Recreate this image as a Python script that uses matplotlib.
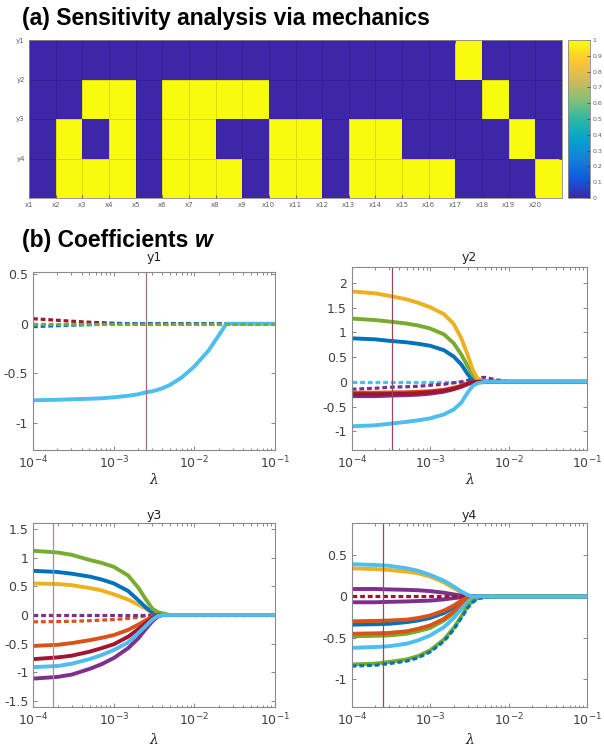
import numpy as np
import matplotlib
matplotlib.use("Agg")
import matplotlib.pyplot as plt
from matplotlib.colors import LinearSegmentedColormap
from matplotlib.ticker import FormatStrFormatter

# --- (a) sensitivity matrix: rows y1..y4, columns x1..x20 -----------------
ROW_LABELS = ["y1", "y2", "y3", "y4"]
COL_LABELS = ["x%d" % i for i in range(1, 21)]
SENS_Y1 = [0, 0, 0, 0, 0, 0, 0, 0, 0, 0, 0, 0, 0, 0, 0, 0, 1, 0, 0, 0]
SENS_Y2 = [0, 0, 1, 1, 0, 1, 1, 1, 1, 0, 0, 0, 0, 0, 0, 0, 0, 1, 0, 0]
SENS_Y3 = [0, 1, 0, 1, 0, 1, 1, 0, 0, 1, 1, 0, 1, 1, 0, 0, 0, 0, 1, 0]
SENS_Y4 = [0, 1, 1, 1, 0, 1, 1, 1, 0, 1, 1, 0, 1, 1, 1, 1, 0, 0, 0, 1]

# --- (b) coefficient paths at these lambdas -------------------------------
LAMBDA = [1e-4, 2e-4, 3e-4, 5e-4, 7e-4, 1e-3, 1.5e-3, 2e-3, 2.5e-3, 3e-3,
          3.5e-3, 4e-3, 5e-3, 7e-3, 1e-2, 1.5e-2, 2e-2, 2.5e-2, 1e-1]
ZEROS = [0, 0, 0, 0, 0, 0, 0, 0, 0, 0, 0, 0, 0, 0, 0, 0, 0, 0, 0]

Y1_CYAN = [-0.77, -0.765, -0.76, -0.755, -0.75, -0.74, -0.725, -0.71, -0.69, -0.68,
           -0.665, -0.65, -0.615, -0.54, -0.43, -0.27, -0.12, 0, 0]
Y1_MAROON_DOT = [0.05, 0.035, 0.025, 0.015, 0.01, 0.005, 0, 0, 0, 0,
                 0, 0, 0, 0, 0, 0, 0, 0, 0]
Y1_BLUE_DOT = [-0.03, -0.02, -0.015, -0.01, -0.005, 0, 0, 0, 0, 0,
               0, 0, 0, 0, 0, 0, 0, 0, 0]
Y1_GREEN_DOT = ZEROS

Y2_YELLOW = [1.83, 1.79, 1.74, 1.67, 1.60, 1.51, 1.37, 1.17, 0.88, 0.55,
             0.24, 0.07, 0, 0, 0, 0, 0, 0, 0]
Y2_GREEN = [1.28, 1.25, 1.22, 1.18, 1.14, 1.08, 0.96, 0.78, 0.55, 0.32,
            0.14, 0.04, 0, 0, 0, 0, 0, 0, 0]
Y2_BLUE = [0.88, 0.86, 0.83, 0.80, 0.77, 0.73, 0.64, 0.51, 0.35, 0.16,
           0.03, 0, 0, 0, 0, 0, 0, 0, 0]
Y2_CYAN_DOT = ZEROS
Y2_PURPLE_DOT = [-0.15, -0.13, -0.11, -0.10, -0.09, -0.07, -0.05, -0.02, 0, 0.03,
                 0.06, 0.08, 0.09, 0.04, 0, 0, 0, 0, 0]
Y2_ORANGE = [-0.22, -0.22, -0.215, -0.21, -0.20, -0.19, -0.16, -0.12, -0.08, -0.03,
             -0.01, 0, 0, 0, 0, 0, 0, 0, 0]
Y2_MAROON = [-0.25, -0.25, -0.245, -0.24, -0.23, -0.21, -0.18, -0.14, -0.09, -0.04,
             -0.01, 0, 0, 0, 0, 0, 0, 0, 0]
Y2_PURPLE = [-0.29, -0.29, -0.28, -0.27, -0.26, -0.24, -0.20, -0.15, -0.10, -0.05,
             -0.01, 0, 0, 0, 0, 0, 0, 0, 0]
Y2_CYAN = [-0.90, -0.88, -0.85, -0.81, -0.78, -0.74, -0.66, -0.56, -0.42, -0.22,
           -0.08, -0.03, 0, 0, 0, 0, 0, 0, 0]

Y3_GREEN = [1.12, 1.09, 1.05, 0.96, 0.91, 0.84, 0.69, 0.48, 0.27, 0.11,
            0.05, 0.03, 0, 0, 0, 0, 0, 0, 0]
Y3_BLUE = [0.77, 0.75, 0.72, 0.67, 0.62, 0.55, 0.42, 0.26, 0.13, 0.04,
           0.01, 0, 0, 0, 0, 0, 0, 0, 0]
Y3_YELLOW = [0.55, 0.54, 0.52, 0.47, 0.43, 0.36, 0.27, 0.18, 0.11, 0.04,
             0.01, 0, 0, 0, 0, 0, 0, 0, 0]
Y3_PURPLE_DOT = ZEROS
Y3_ORANGE_DOT = [-0.12, -0.115, -0.11, -0.10, -0.09, -0.08, -0.06, -0.04, -0.01, 0,
                 0, 0, 0, 0, 0, 0, 0, 0, 0]
Y3_ORANGE = [-0.54, -0.52, -0.49, -0.44, -0.40, -0.35, -0.26, -0.17, -0.09, -0.03,
             -0.01, 0, 0, 0, 0, 0, 0, 0, 0]
Y3_MAROON = [-0.77, -0.74, -0.71, -0.64, -0.58, -0.51, -0.38, -0.25, -0.14, -0.05,
             -0.01, 0, 0, 0, 0, 0, 0, 0, 0]
Y3_CYAN = [-0.91, -0.89, -0.85, -0.77, -0.70, -0.61, -0.48, -0.32, -0.19, -0.08,
           -0.02, 0, 0, 0, 0, 0, 0, 0, 0]
Y3_PURPLE = [-1.11, -1.08, -1.04, -0.94, -0.86, -0.75, -0.58, -0.41, -0.24, -0.11,
             -0.03, 0, 0, 0, 0, 0, 0, 0, 0]

Y4_CYAN_A = [0.39, 0.38, 0.37, 0.34, 0.31, 0.26, 0.19, 0.12, 0.06, 0.02,
             0, 0, 0, 0, 0, 0, 0, 0, 0]
Y4_YELLOW = [0.34, 0.33, 0.32, 0.30, 0.28, 0.24, 0.17, 0.10, 0.05, 0.01,
             0, 0, 0, 0, 0, 0, 0, 0, 0]
Y4_PURPLE_A = [0.09, 0.09, 0.085, 0.08, 0.075, 0.065, 0.045, 0.025, 0.01, 0,
               0, 0, 0, 0, 0, 0, 0, 0, 0]
Y4_PURPLE_B = [-0.07, -0.07, -0.065, -0.06, -0.055, -0.05, -0.035, -0.02, -0.01, 0,
               0, 0, 0, 0, 0, 0, 0, 0, 0]
Y4_MAROON_DOT = ZEROS
Y4_ORANGE_A = [-0.30, -0.295, -0.29, -0.28, -0.26, -0.23, -0.17, -0.11, -0.05, -0.015,
               0, 0, 0, 0, 0, 0, 0, 0, 0]
Y4_BLUE = [-0.34, -0.335, -0.33, -0.31, -0.29, -0.26, -0.20, -0.13, -0.07, -0.02,
           0, 0, 0, 0, 0, 0, 0, 0, 0]
Y4_ORANGE_B = [-0.45, -0.445, -0.44, -0.42, -0.39, -0.35, -0.27, -0.18, -0.10, -0.04,
               -0.01, 0, 0, 0, 0, 0, 0, 0, 0]
Y4_GREEN_A = [-0.48, -0.475, -0.47, -0.45, -0.42, -0.38, -0.29, -0.20, -0.11, -0.045,
              -0.01, 0, 0, 0, 0, 0, 0, 0, 0]
Y4_CYAN_B = [-0.62, -0.61, -0.60, -0.57, -0.53, -0.47, -0.37, -0.26, -0.15, -0.07,
             -0.02, 0, 0, 0, 0, 0, 0, 0, 0]
Y4_GREEN_B = [-0.82, -0.81, -0.79, -0.76, -0.72, -0.65, -0.52, -0.38, -0.24, -0.12,
              -0.05, -0.02, 0, 0, 0, 0, 0, 0, 0]
Y4_BLUE_DOT = [-0.84, -0.83, -0.81, -0.78, -0.74, -0.67, -0.54, -0.40, -0.26, -0.14,
               -0.07, -0.03, -0.01, 0, 0, 0, 0, 0, 0]

# selected lambda (vertical marker) per panel
VLINES = [2.5e-3, 3.3e-4, 1.75e-4, 2.5e-4]

# MATLAB default line colours
BLUE, ORANGE, YELLOW, PURPLE = "#0072BD", "#D95319", "#EDB120", "#7E2F8E"
GREEN, CYAN, MAROON = "#77AC30", "#4DBEEE", "#A2142F"

panels = [
    ("y1", (-1.27, 0.52), [-1, -0.5, 0, 0.5], [
        (Y1_MAROON_DOT, MAROON, ":"), (Y1_BLUE_DOT, BLUE, ":"),
        (Y1_CYAN, CYAN, "-"), (Y1_GREEN_DOT, GREEN, ":")]),
    ("y2", (-1.38, 2.33), [-1, -0.5, 0, 0.5, 1, 1.5, 2], [
        (Y2_CYAN_DOT, CYAN, ":"), (Y2_PURPLE_DOT, PURPLE, ":"),
        (Y2_BLUE, BLUE, "-"), (Y2_GREEN, GREEN, "-"), (Y2_YELLOW, YELLOW, "-"),
        (Y2_PURPLE, PURPLE, "-"), (Y2_ORANGE, ORANGE, "-"), (Y2_MAROON, MAROON, "-"),
        (Y2_CYAN, CYAN, "-")]),
    ("y3", (-1.6, 1.61), [-1.5, -1, -0.5, 0, 0.5, 1, 1.5], [
        (Y3_ORANGE_DOT, ORANGE, ":"), (Y3_PURPLE_DOT, PURPLE, ":"),
        (Y3_YELLOW, YELLOW, "-"), (Y3_BLUE, BLUE, "-"), (Y3_GREEN, GREEN, "-"),
        (Y3_ORANGE, ORANGE, "-"), (Y3_MAROON, MAROON, "-"), (Y3_PURPLE, PURPLE, "-"),
        (Y3_CYAN, CYAN, "-")]),
    ("y4", (-1.33, 0.89), [-1, -0.5, 0, 0.5], [
        (Y4_YELLOW, YELLOW, "-"), (Y4_PURPLE_A, PURPLE, "-"), (Y4_PURPLE_B, PURPLE, "-"),
        (Y4_MAROON_DOT, MAROON, ":"), (Y4_BLUE, BLUE, "-"), (Y4_ORANGE_A, ORANGE, "-"),
        (Y4_GREEN_A, GREEN, "-"), (Y4_ORANGE_B, ORANGE, "-"), (Y4_CYAN_B, CYAN, "-"),
        (Y4_GREEN_B, GREEN, "-"), (Y4_BLUE_DOT, BLUE, ":"), (Y4_CYAN_A, CYAN, "-")]),
]
VLINE_COLORS = ["#a0707e", "#8f4a5e", "#a89090", "#8f4a5e"]

W, H = 604, 746
plt.rcParams["font.family"] = ["DejaVu Sans"]
TXT = "#404040"
EDGE = "#8a8a8a"


def box(x0, y0, x1, y1):
    # pixel box (top-left origin) -> figure fraction rect
    return [x0 / W, 1 - y1 / H, (x1 - x0) / W, (y1 - y0) / H]


def fy(y):
    return 1 - y / H


fig = plt.figure(figsize=(W / 100, H / 100), dpi=100)

# approximate parula
parula = LinearSegmentedColormap.from_list("parula", [
    "#3E26A8", "#0F5CDD", "#1481D6", "#06A4CA", "#2EB7A4",
    "#87BF77", "#D1BB59", "#FEC832", "#F9FB0E"])

fig.text(22 / W, fy(25), "(a) Sensitivity analysis via mechanics",
         family="Liberation Sans", weight="bold", fontsize=16.5, va="baseline")

ax_h = fig.add_axes(box(29, 40, 562, 198))
sens = np.array([SENS_Y1, SENS_Y2, SENS_Y3, SENS_Y4])
mesh = ax_h.pcolormesh(np.arange(len(COL_LABELS) + 1), np.arange(len(ROW_LABELS) + 1),
                       sens, cmap=parula, vmin=0, vmax=1,
                       edgecolors=(0, 0, 0, 0.12), linewidth=0.4)
ax_h.set_xlim(0, len(COL_LABELS))
ax_h.set_ylim(len(ROW_LABELS), 0)
ax_h.set_xticks(np.arange(len(COL_LABELS)))
ax_h.set_xticklabels(COL_LABELS)
ax_h.set_yticks(np.arange(len(ROW_LABELS)))
ax_h.set_yticklabels(ROW_LABELS)
ax_h.tick_params(direction="in", length=2, width=0.5, labelsize=5, colors="#333333",
                 labelcolor="#606060", top=True, right=True, pad=3)
for sp in ax_h.spines.values():
    sp.set_color(EDGE)
    sp.set_linewidth(0.6)

cax = fig.add_axes(box(568, 40, 590, 198))
cb = fig.colorbar(mesh, cax=cax, ticks=np.arange(0, 1.01, 0.1))
cb.ax.yaxis.set_major_formatter(FormatStrFormatter("%g"))
cb.ax.tick_params(direction="in", length=2, width=0.5, labelsize=4.5,
                  labelcolor="#606060", colors="#333333", pad=2)
cb.outline.set_edgecolor(EDGE)
cb.outline.set_linewidth(0.6)

tb = fig.text(22 / W, fy(247), "(b) Coefficients ", family="Liberation Sans",
              weight="bold", fontsize=16.5, va="baseline")
fig.canvas.draw()
bb = tb.get_window_extent(fig.canvas.get_renderer())
fig.text(bb.x1 / W, fy(247), "w", family="Liberation Sans", weight="bold",
         style="italic", fontsize=16.5, va="baseline")

rects = [box(33, 272, 275, 450), box(351.7, 266.7, 587, 450),
         box(33.3, 522.7, 275, 706.7), box(351.7, 522.7, 587, 706.7)]
title_y = [258, 258, 515, 515]
lam_y = [480, 480, 740, 740]

for (name, ylim, yt, curves), rect, vl, vc, ty, ly in zip(panels, rects, VLINES,
                                                         VLINE_COLORS, title_y, lam_y):
    ax = fig.add_axes(rect)
    for vals, col, ls in curves:
        if ls == ":":
            ax.plot(LAMBDA, vals, color=col, lw=2.3, linestyle=(0, (1.5, 0.9)))
        else:
            ax.plot(LAMBDA, vals, color=col, lw=2.8, solid_capstyle="butt",
                    solid_joinstyle="round")
    ax.axvline(vl, color=vc, lw=0.9)
    ax.set_xscale("log")
    ax.set_xlim(1e-4, 1e-1)
    ax.set_ylim(*ylim)
    ax.set_yticks(yt)
    ax.set_yticklabels(["%g" % v for v in yt])
    ax.set_xticks([1e-4, 1e-3, 1e-2, 1e-1])
    ax.tick_params(which="both", direction="in", top=True, right=True,
                   colors="#555555", labelcolor=TXT, labelsize=9, width=0.5)
    ax.tick_params(which="major", length=3)
    ax.tick_params(which="minor", length=1.8)
    for sp in ax.spines.values():
        sp.set_color(EDGE)
        sp.set_linewidth(0.8)
    x0, x1 = rect[0], rect[0] + rect[2]
    fig.text((x0 + x1) / 2, fy(ty), name, ha="center", va="center",
             fontsize=9, color="#222222")
    fig.text((x0 + x1) / 2, fy(ly), "λ", ha="center", va="center",
             fontsize=10, family="DejaVu Serif", style="italic", color="#222222")

fig.savefig("out.png", dpi=100)
